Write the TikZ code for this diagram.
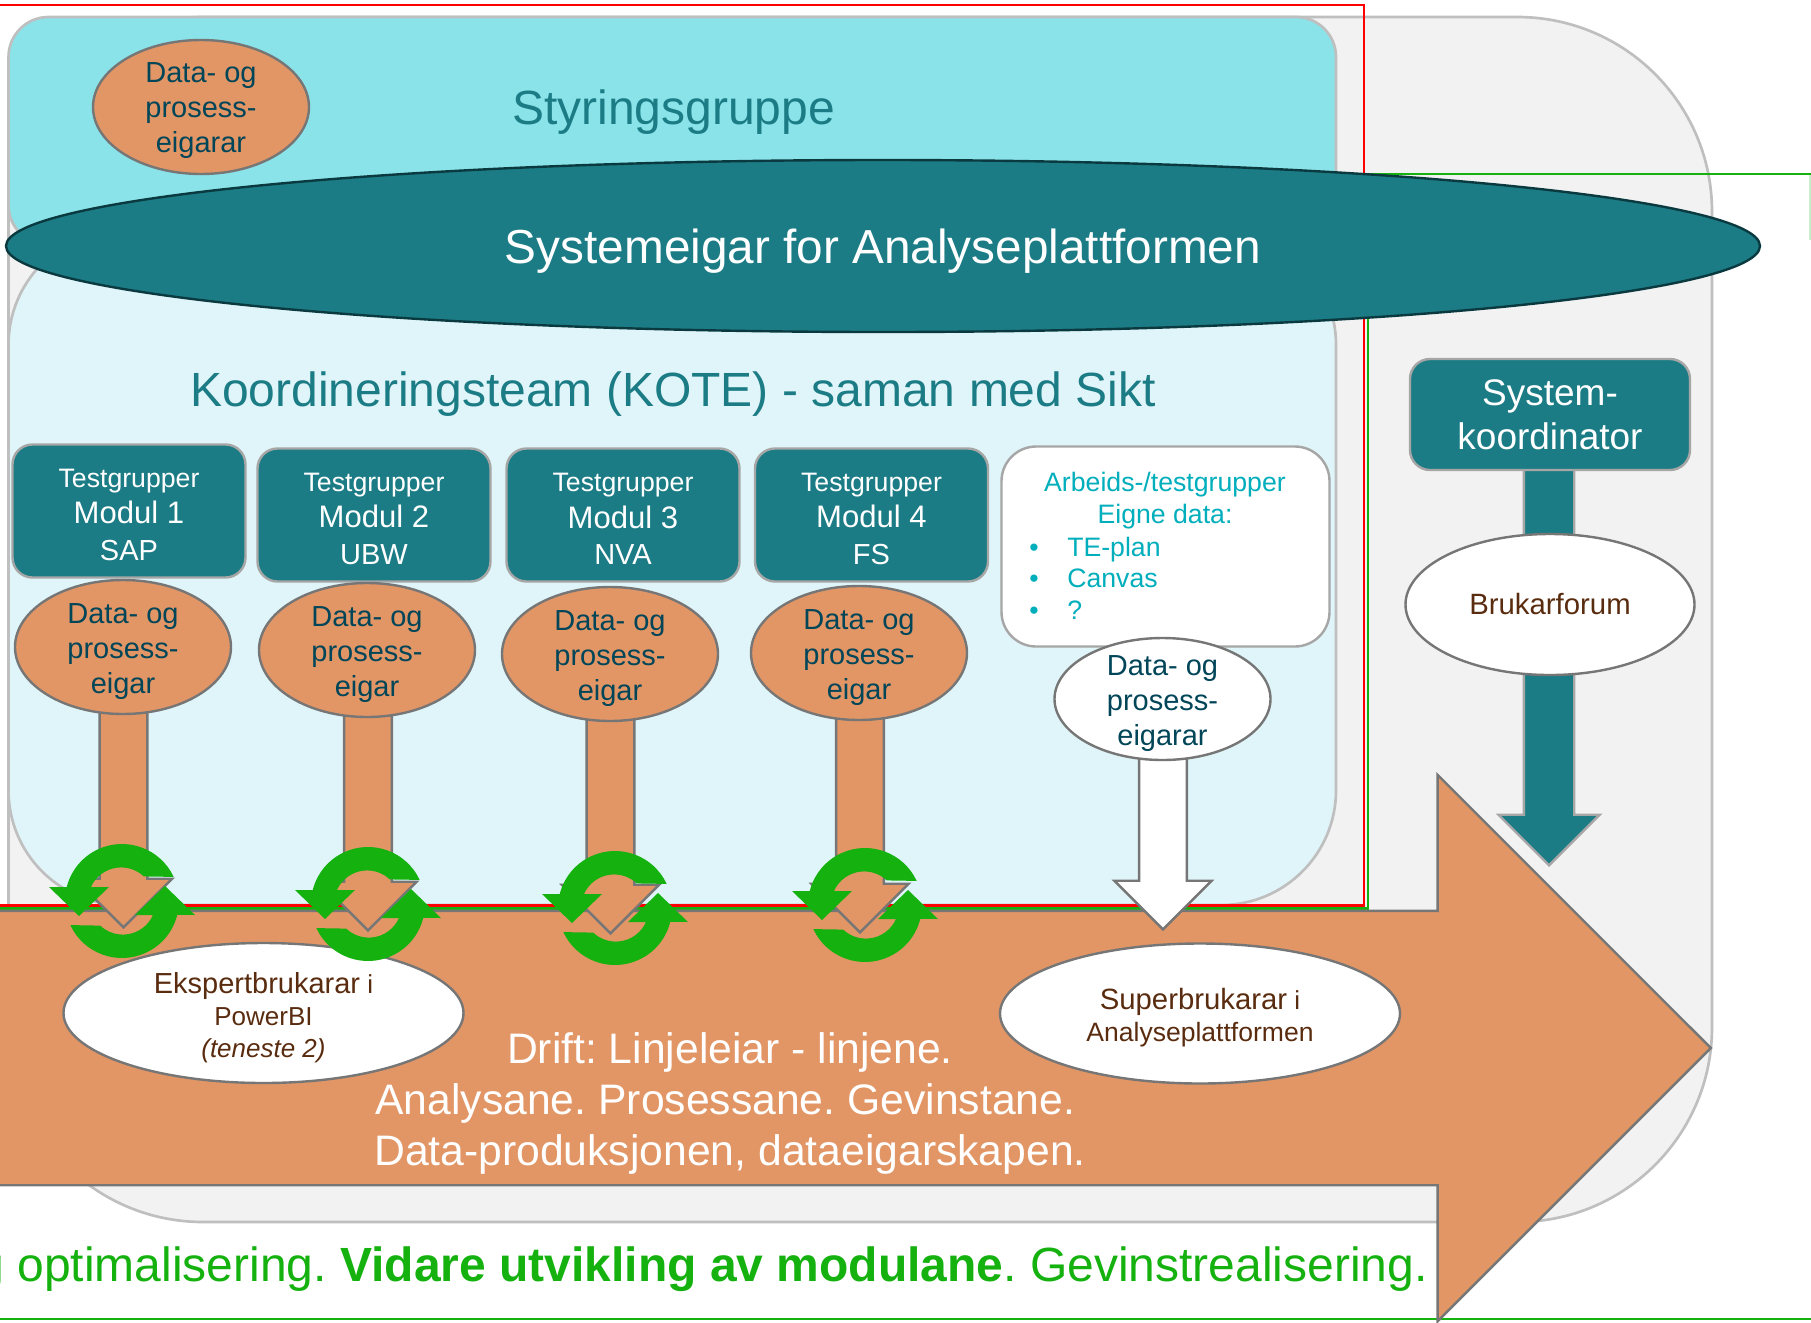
\documentclass[tikz,border=0pt]{standalone}
\usepackage{fontspec}
\setmainfont{Liberation Sans}
\usetikzlibrary{shapes.geometric,shapes.arrows}
\definecolor{panelgray}{HTML}{F2F2F2}
\definecolor{panelline}{HTML}{BFBFBF}
\definecolor{styrblue}{HTML}{8AE3E9}
\definecolor{koteblue}{HTML}{E0F5F9}
\definecolor{teal}{HTML}{1C7C85}
\definecolor{tealdark}{HTML}{0A3A40}
\definecolor{ownerorange}{HTML}{E29666}
\definecolor{edgegray}{HTML}{767676}
\definecolor{boxline}{HTML}{A6A6A6}
\definecolor{cyclegreen}{HTML}{14B10F}
\definecolor{palegreen}{HTML}{C8F0C8}
\definecolor{ownertext}{HTML}{004558}
\definecolor{brown}{HTML}{5A2C0F}
\definecolor{listcyan}{HTML}{00AEBC}
\tikzset{
	panel/.style={draw=panelline,line width=2pt},
	ownerellipse/.style={ellipse,draw=edgegray,line width=1.8pt,fill=ownerorange,text=ownertext,align=center,inner sep=-15pt,minimum width=162pt,minimum height=100.5pt,font=\fontsize{21.75}{26.25}\selectfont},
	userellipse/.style={ellipse,draw=edgegray,line width=1.8pt,fill=white,text=brown,align=center,inner sep=-15pt,minimum width=300pt,minimum height=105pt,font=\fontsize{19.5}{24}\selectfont},
	modulebox/.style={draw=boxline,line width=1.8pt,fill=teal,text=white,rounded corners=15pt,align=center,minimum width=174.75pt,minimum height=99.75pt,inner sep=0pt,font=\fontsize{20}{27.3}\selectfont},
	ownerarrow/.style={single arrow,draw=edgegray,line width=1.8pt,fill=ownerorange,rotate=-90,anchor=tip,inner xsep=0pt,inner ysep=17pt,single arrow head extend=18.5pt},
	headline/.style={text=teal,font=\fontsize{36}{43}\selectfont},
	listline/.style={text=listcyan,font=\fontsize{20}{24}\selectfont,inner sep=0pt},
	flowtext/.style={text=white,font=\fontsize{32}{38.25}\selectfont,align=center},
}
\newcommand{\ownerlabel}[1]{\rule{0pt}{21pt}Data- og\\prosess-\\#1}
\newcommand{\modulelabel}[2]{\rule{0pt}{19.6pt}Testgrupper\\{\fontsize{23.3}{27.3}\selectfont #1}\\{\fontsize{21.75}{27.3}\selectfont #2}}
\newcommand{\cyclepart}{\fill[cyclegreen] (-25:57) arc (-25:-166:57) -- (-73,-14) -- (-43,15) -- (-13,-14) -- (-31,-14) arc (-156:-46.7:33) -- cycle;}
\newcommand{\cyclemark}[2]{\begin{scope}[shift={(#1,#2)}]\cyclepart\begin{scope}[rotate=180]\cyclepart\end{scope}\end{scope}}
\begin{document}
\frenchspacing
\begin{tikzpicture}[x=0.75pt,y=-0.75pt]
	\useasboundingbox (0,0) rectangle (1811,1322);
	\draw[panel,fill=panelgray,rounded corners=146pt] (8.5,17) rectangle (1712,1222);
	\draw[panel,fill=styrblue,rounded corners=30pt] (8.5,17) rectangle (1336,245);
	\draw[panel,fill=koteblue,rounded corners=86pt] (8.5,230) rectangle (1336,905);
	\draw[red,line width=1.6pt] (-10,5) -- (1364,5) -- (1364,905.5) -- (-10,905.5);
	\draw[palegreen,line width=1.4pt] (1810,174) -- (1810,240);
	\draw[cyclegreen,line width=1.6pt] (1811,174) -- (1368,174) -- (1368,908.5) -- (-10,908.5);
	\draw[cyclegreen,line width=1.6pt] (-10,1319) -- (1821,1319);

	\node[single arrow,draw=boxline,line width=1.8pt,fill=teal,rotate=-90,anchor=tip,inner xsep=0pt,inner ysep=18pt,minimum height=297.75pt,single arrow head extend=19pt] (sysarrow) at (1549,867) {};
	\node[single arrow,draw=edgegray,line width=1.8pt,fill=ownerorange,anchor=tip,inner xsep=0pt,inner ysep=102pt,minimum height=1300pt,single arrow head extend=102pt] (bigarrow) at (1712.5,1048) {};

	\node[ownerellipse] (topowner) at (201,107) {\ownerlabel{eigarar}};
	\node[headline] (styring) at (673.5,112) {Styringsgruppe};
	\node[ellipse,draw=tealdark,line width=1.8pt,fill=teal,minimum width=1315.5pt,minimum height=129pt,inner sep=0pt] (sysowner) at (883,246) {};
	\node[text=white,font=\fontsize{35.8}{43}\selectfont] (sysownertext) at (883,251.5) {Systemeigar for Analyseplattformen};
	\node[headline] (kote) at (673,394.5) {Koordineringsteam (KOTE) - saman med Sikt};

	\node[modulebox] (modul1) at (129,511) {\modulelabel{Modul 1}{SAP}};
	\node[modulebox] (modul2) at (374,515) {\modulelabel{Modul 2}{UBW}};
	\node[modulebox] (modul3) at (623,515) {\modulelabel{Modul 3}{NVA}};
	\node[modulebox] (modul4) at (871.5,515) {\modulelabel{Modul 4}{FS}};
	\node[draw=boxline,line width=1.8pt,fill=white,rounded corners=26pt,minimum width=246pt,minimum height=150pt,inner sep=0pt] (arbeid) at (1165.5,546.5) {};
	\node[listline,anchor=base] (arbeidhead) at (1165,491.5) {Arbeids-/testgrupper};
	\node[listline,anchor=base] (arbeiddata) at (1165,523) {Eigne data:};
	\node[listline,anchor=base] (bullet1) at (1034,556) {•};
	\node[listline,anchor=base west] (item1) at (1067,556) {TE-plan};
	\node[listline,anchor=base] (bullet2) at (1034,587.5) {•};
	\node[listline,anchor=base west] (item2) at (1067,587.5) {Canvas};
	\node[listline,anchor=base] (bullet3) at (1034,619) {•};
	\node[listline,anchor=base west] (item3) at (1067,619) {?};

	\node[ownerarrow,minimum height=211.5pt] (flow1) at (123.5,929) {};
	\node[ownerarrow,minimum height=211.5pt] (flow2) at (368,932) {};
	\node[ownerarrow,minimum height=211.5pt] (flow3) at (610.5,935) {};
	\node[ownerarrow,minimum height=211.5pt] (flow4) at (860,934) {};
	\node[ownerarrow,fill=white,minimum height=174pt] (flow5) at (1163,931) {};

	\node[ownerellipse] (owner1) at (123,647) {\ownerlabel{eigar}};
	\node[ownerellipse] (owner2) at (367,650) {\ownerlabel{eigar}};
	\node[ownerellipse] (owner3) at (610,654) {\ownerlabel{eigar}};
	\node[ownerellipse] (owner4) at (859,653) {\ownerlabel{eigar}};
	\node[ownerellipse,fill=white,minimum height=91.5pt] (owner5) at (1162.5,699) {\ownerlabel{eigarar}};

	\node[modulebox,minimum width=210pt,minimum height=83.25pt,font=\fontsize{27.75}{33}\selectfont] (syskoord) at (1550,414.5) {System-\\koordinator};
	\node[ellipse,draw=edgegray,line width=1.8pt,fill=white,text=brown,minimum width=216.75pt,minimum height=105.75pt,inner sep=0pt,font=\fontsize{22}{26}\selectfont] (forum) at (1550,604.5) {Brukarforum};

	\node[userellipse] (expert) at (263.5,1013) {\rule{0pt}{22.5pt}{\fontsize{21.75}{24}\selectfont Ekspertbrukarar} i\\PowerBI\\\textit{(teneste 2)}};
	\node[userellipse] (super) at (1200,1013.5) {\rule{0pt}{21.5pt}{\fontsize{22}{24}\selectfont Superbrukarar} i\\{\fontsize{19.9}{24}\selectfont Analyseplattformen}};
	\node[flowtext] (drifttext) at (730,1103.5) {Drift: Linjeleiar - linjene.\\Analysane. Prosessane. Gevinstane.\rule{7pt}{0pt}\\Data-produksjonen, dataeigarskapen.};
	\node[text=cyclegreen,anchor=east,inner sep=0pt,font=\fontsize{36}{43}\selectfont] (gaintext) at (1428,1269.5) {g optimalisering. \textbf{Vidare utvikling av modulane}. Gevinstrealisering.};

	\cyclemark{122}{901}
	\cyclemark{368}{904}
	\cyclemark{615}{908}
	\cyclemark{865}{905}
\end{tikzpicture}
\end{document}
